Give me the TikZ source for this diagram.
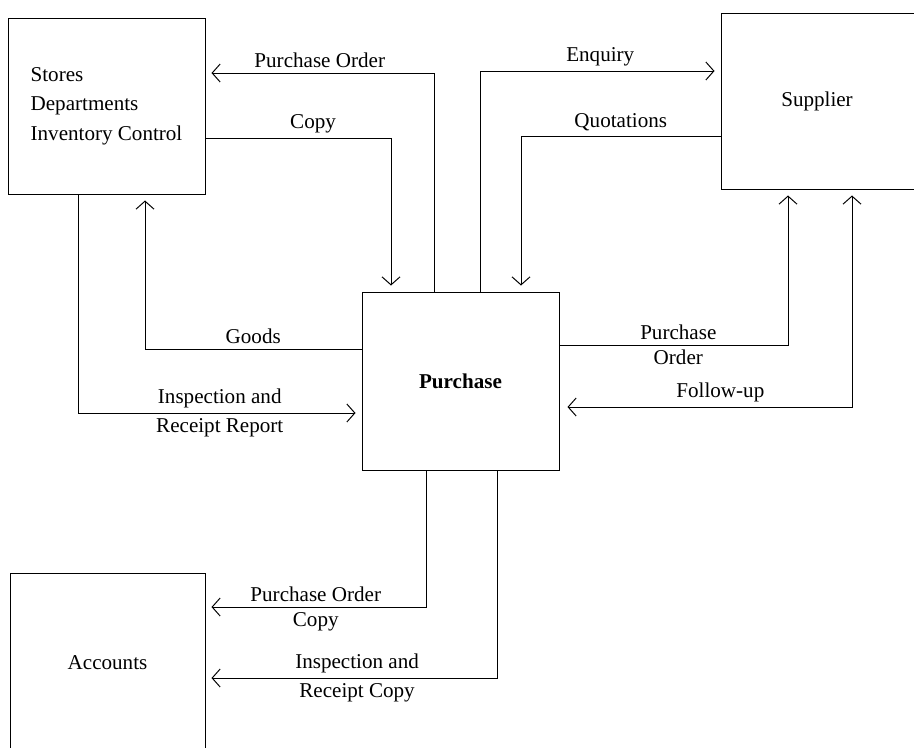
\documentclass[tikz,border=0pt]{standalone}
\usepackage{fontspec}
\setmainfont{Liberation Serif}
\usetikzlibrary{arrows.meta,calc,positioning}

\begin{document}
\begin{tikzpicture}[x=0.25mm,y=-0.25mm,line width=0.7pt,
      font=\fontsize{15}{21}\selectfont,
      unit/.style={draw,minimum width=#1},
      flow/.style={-{Straight Barb[length=2mm,width=4.5mm]},shorten >=1.5mm},
      both/.style={{Straight Barb[length=2mm,width=4.5mm]}-{Straight Barb[length=2mm,width=4.5mm]},shorten >=2mm,shorten <=1.5mm}]
  \clip (0,0) rectangle (914,747);
  % the four units
  \node[unit=49.25mm,minimum height=44mm,align=left] (stores) at (106.5,106)
    {Stores\\Departments\\Inventory Control};
  \node[unit=55mm,minimum height=44mm,label={[xshift=-3.5mm]center:Supplier}] (supplier) at (831,101) {};
  \node[unit=49.25mm,minimum height=44.5mm,font=\fontsize{15}{21}\selectfont\bfseries] (purchase) at (460.5,381) {Purchase};
  \node[unit=48.75mm,minimum height=44.75mm] (accounts) at (107.5,662.5) {Accounts};

  % bends of the flows
  \coordinate (poS) at (434,73);
  \coordinate (cpy) at (391,138);
  \coordinate (enq) at (480,71);
  \coordinate (quo) at (521,136);
  \coordinate (gds) at (145,349);
  \coordinate (irr) at (78,413);
  \coordinate (poU) at (788,345);
  \coordinate (fup) at (852,407);
  \coordinate (poA) at (426,607);
  \coordinate (irA) at (497,678);

  \draw[flow] (poS |- purchase.north) |- (stores.east |- poS)
    node[pos=.75,above]{Purchase Order};
  \draw[flow] (stores.east |- cpy) -| (cpy |- purchase.north)
    node[pos=.29,above]{Copy};
  \draw[flow] (enq |- purchase.north) |- (supplier.west |- enq)
    node[pos=.75,above]{Enquiry};
  \draw[flow] (supplier.west |- quo) -| (quo |- purchase.north)
    node[pos=.25,above]{Quotations};
  \draw[flow] (purchase.west |- gds) -| (gds |- stores.south)
    node[pos=.25,above]{Goods};
  \draw[flow] (irr |- stores.south) |- (purchase.west |- irr)
    node[pos=.75,above]{Inspection and}
    node[pos=.75,below]{Receipt Report};
  \draw[flow] (purchase.east |- poU) -| (poU |- supplier.south)
    node[pos=.26,above]{Purchase}
    node[pos=.26,below]{Order};
  \draw[both] (fup |- supplier.south) |- (purchase.east |- fup)
    node[pos=.725,above]{Follow-up};
  \draw[flow] (poA |- purchase.south) |- (accounts.east |- poA)
    node[pos=.75,above]{Purchase Order}
    node[pos=.75,below]{Copy};
  \draw[flow] (irA |- purchase.south) |- (accounts.east |- irA)
    node[pos=.74,above]{Inspection and}
    node[pos=.74,below]{Receipt Copy};
\end{tikzpicture}
\end{document}
